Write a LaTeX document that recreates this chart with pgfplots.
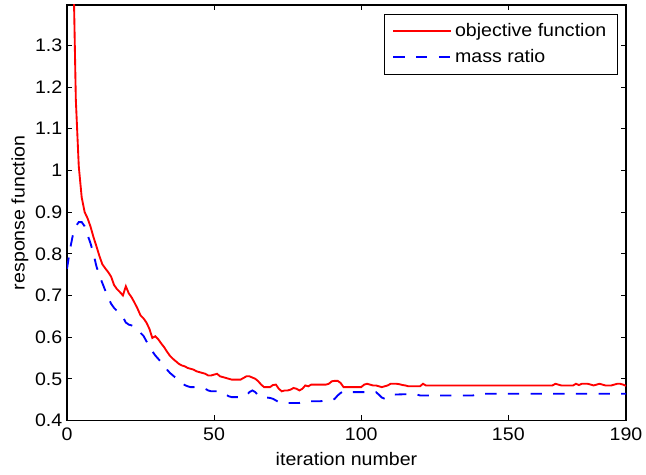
\documentclass[border=0pt]{standalone}
\usepackage{fontspec}
\setmainfont{Liberation Sans}[FakeStretch=1.08]
\usepackage{pgfplots}
\pgfplotsset{compat=1.18}
\begin{document}
\begin{tikzpicture}
\begin{axis}[
  scale only axis, width=419.25pt, height=311.6pt,
  xmin=0, xmax=190, ymin=0.4, ymax=1.397,
  xtick={0,50,100,150,190},
  ytick={0.4,0.5,0.6,0.7,0.8,0.9,1,1.1,1.2,1.3},
  tick align=inside, xtick pos=both, ytick pos=both,
  major tick length=3.75pt,
  every tick/.style={black, line width=0.6pt},
  axis line style={line width=0.8pt},
  /pgf/number format/assume math mode=true,
  tick label style={font=\fontsize{13.6}{15}\selectfont},
  label style={font=\fontsize{13.6}{15}\selectfont},
  xticklabel style={yshift=-2pt},
  xlabel={iteration number}, ylabel={response function},
  xlabel style={at={(axis description cs:0.5,-0.0927)}, anchor=center},
  ylabel style={at={(axis description cs:-0.0841,0.5)}, anchor=center, rotate=0},
  legend cell align=left,
  legend style={at={(1,1)}, anchor=north east, xshift=-6pt, yshift=-6.75pt,
    draw=black, font=\fontsize{13.6}{15}\selectfont,
    inner xsep=6.5pt, inner ysep=5pt, row sep=4pt},
  legend image code/.code={\draw[#1, line width=1.4pt] (0pt,0pt) -- (43.5pt,0pt);},
]
\addplot[red, line width=1.4pt] coordinates {
(0,2.5)(1,1.8)(2,1.55)(3,1.17)(4,1.01)(5,0.935)(6,0.9)(7,0.885)(8,0.865)(9,0.84)
(10,0.818)(11,0.795)(12,0.775)(13,0.765)(14,0.756)(15,0.745)(16,0.725)(17,0.715)(18,0.708)(19,0.70)
(20,0.722)(21,0.705)(22,0.695)(23,0.682)(24,0.668)(25,0.652)(26,0.645)(27,0.635)(28,0.62)(29,0.598)
(30,0.602)(31,0.595)(32,0.585)(33,0.576)(34,0.565)(35,0.555)(36,0.548)(37,0.542)(38,0.536)(39,0.532)
(40,0.53)(41,0.526)(42,0.524)(43,0.522)(44,0.518)(45,0.516)(46,0.514)(47,0.512)(48,0.508)(49,0.508)
(50,0.51)(51,0.512)(52,0.506)(53,0.504)(54,0.502)(55,0.5)(56,0.498)(57,0.498)(58,0.498)(59,0.498)
(60,0.502)(61,0.506)(62,0.506)(63,0.503)(64,0.5)(65,0.494)(66,0.486)(67,0.48)(68,0.48)(69,0.48)
(70,0.485)(71,0.486)(72,0.476)(73,0.47)(74,0.472)(75,0.472)(76,0.474)(77,0.478)(78,0.476)(79,0.472)
(80,0.476)(81,0.484)(82,0.482)(83,0.486)(84,0.486)(85,0.486)(86,0.486)(87,0.486)(88,0.486)(89,0.488)
(90,0.494)(91,0.495)(92,0.495)(93,0.49)(94,0.48)(95,0.48)(96,0.48)(97,0.48)(98,0.48)(99,0.48)
(100,0.48)(101,0.486)(102,0.488)(103,0.486)(104,0.484)(105,0.484)(106,0.482)(107,0.48)(108,0.482)(109,0.484)
(110,0.488)(111,0.488)(112,0.488)(113,0.487)(114,0.485)(115,0.484)(116,0.482)(117,0.482)(118,0.482)(119,0.482)
(120,0.482)(121,0.488)(122,0.484)(130,0.484)(140,0.484)(150,0.484)(160,0.484)(165,0.484)
(166,0.488)(167,0.486)(168,0.484)(172,0.484)(173,0.488)(174,0.485)(175,0.488)(176,0.488)(177,0.488)(178,0.486)(179,0.484)
(180,0.486)(181,0.488)(182,0.486)(183,0.484)(184,0.484)(185,0.484)(186,0.486)(187,0.488)(188,0.488)(189,0.486)(190,0.483)
};
\addlegendentry{objective function}
\addplot[blue, line width=1.4pt, dash pattern=on 8.5pt off 8.5pt] coordinates {
(0,0.764)(1,0.81)(2,0.845)(3,0.866)(4,0.876)(5,0.876)(6,0.866)(7,0.845)(8,0.825)(9,0.8)
(10,0.77)(11,0.748)(12,0.73)(13,0.712)(14,0.695)(15,0.68)(16,0.67)(17,0.663)(18,0.657)(19,0.648)
(20,0.635)(21,0.63)(22,0.628)(23,0.625)(24,0.62)(25,0.61)(26,0.603)(27,0.59)(28,0.578)(29,0.566)
(30,0.556)(31,0.548)(32,0.54)(33,0.533)(34,0.522)(35,0.514)(36,0.508)(37,0.502)(38,0.494)(39,0.49)
(40,0.485)(41,0.482)(42,0.48)(43,0.48)(44,0.479)(45,0.478)(46,0.478)(47,0.476)(48,0.472)(49,0.47)
(50,0.47)(51,0.47)(52,0.468)(53,0.466)(54,0.462)(55,0.458)(56,0.456)(57,0.456)(58,0.456)(59,0.456)
(60,0.456)(61,0.46)(62,0.468)(63,0.472)(64,0.468)(65,0.46)(66,0.456)(67,0.456)(68,0.455)(69,0.454)
(70,0.452)(71,0.448)(72,0.444)(73,0.442)(74,0.442)(75,0.442)(76,0.442)(77,0.442)(78,0.442)(79,0.442)
(80,0.444)(81,0.446)(82,0.446)(83,0.446)(84,0.446)(85,0.446)(86,0.446)(87,0.447)(88,0.447)(89,0.447)
(90,0.448)(91,0.452)(92,0.46)(93,0.466)(94,0.47)(95,0.468)(100,0.468)(105,0.468)
(106,0.462)(107,0.455)(108,0.452)(109,0.456)(110,0.46)(111,0.462)(115,0.463)(118,0.463)(119,0.462)
(120,0.46)(125,0.46)(130,0.46)(135,0.46)(138,0.46)(139,0.462)(140,0.464)(150,0.464)(160,0.464)
(170,0.464)(180,0.464)(190,0.464)
};
\addlegendentry{mass ratio}
\end{axis}
\pgfresetboundingbox
\path (current axis.south west) ++(-50.25pt,-40.9pt) coordinate (BL);
\path (current axis.north east) ++(15pt,3.75pt) coordinate (TR);
\useasboundingbox (BL) rectangle (TR);
\end{tikzpicture}
\end{document}
